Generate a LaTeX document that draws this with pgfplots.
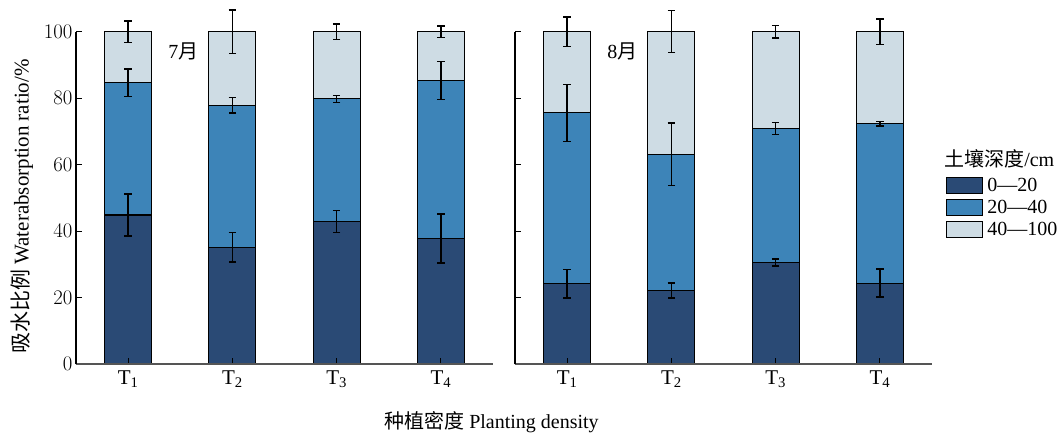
\documentclass[border=0pt]{standalone}
\usepackage{fontspec}
\setmainfont{Liberation Serif}
\newfontfamily\cjk{Noto Sans CJK SC}
\usepackage{pgfplots}
\pgfplotsset{compat=1.18}

\definecolor{cdark}{HTML}{2A4A75}
\definecolor{cmid}{HTML}{3D84B8}
\definecolor{clight}{HTML}{CEDCE4}
\definecolor{axgray}{HTML}{555555}

\newcommand{\tickfont}{\fontsize{20}{23}\selectfont}
\newcommand{\labfont}{\fontsize{20}{23}\selectfont}

\pgfplotsset{
  geom/.style={
    scale only axis, width=417pt, height=332.6pt,
    xmin=0.5, xmax=4.5, ymin=0, ymax=100,
    clip=false,
  },
  panel/.style={
    geom,
    axis x line=bottom, axis y line=left,
    axis line style={-},
    x axis line style={draw=axgray, line width=1.6pt},
    y axis line style={draw=black, line width=1.1pt},
    xtick={1,2,3,4},
    xticklabels={T\textsubscript{1},T\textsubscript{2},T\textsubscript{3},T\textsubscript{4}},
    ytick={0,20,40,60,80,100},
    tick align=inside, major tick length=6pt,
    tick style={black, line width=1.1pt},
    ticklabel style={font=\tickfont},
    xticklabel style={font=\fontsize{21}{24}\selectfont, yshift=-3pt},
    ybar stacked, bar width=0.45,
    axis on top,
  },
  errax/.style={geom, axis lines=none, xtick=\empty, ytick=\empty},
  legbox/.style={legend image code/.code={\draw[##1, line width=1.1pt] (0pt,-8pt) rectangle (36pt,8pt);}},
  barsty/.style={draw=black, line width=1.1pt, fill=#1, legbox},
  ebar/.style={draw=none, mark=none, forget plot,
    error bars/.cd, y dir=both, y explicit,
    error bar style={draw=black, line width=1.4pt},
    error mark options={rotate=90, draw=black, mark size=3.7pt, line width=1.4pt}},
}

% July (7月): x, 0-20, 20-40, 40-100
\pgfplotstableread{
x  a     b     c
1  44.9  39.8  15.3
2  35.2  42.7  22.1
3  42.9  36.9  20.2
4  37.8  47.5  14.7
}\julydata
% August (8月)
\pgfplotstableread{
x  a     b     c
1  24.2  51.4  24.4
2  22.2  41.0  36.8
3  30.6  40.3  29.1
4  24.4  47.9  27.7
}\augdata

\begin{document}
\begin{tikzpicture}
\path[use as bounding box] (0pt,0pt) rectangle (1062pt,438pt);

% ---------- left panel (July) ----------
\begin{axis}[panel, at={(76pt,73.7pt)}, anchor=south west]
  \addplot[barsty=cdark]  table[x=x,y=a] {\julydata};
  \addplot[barsty=cmid]   table[x=x,y=b] {\julydata};
  \addplot[barsty=clight] table[x=x,y=c] {\julydata};
  \node[font=\labfont] at (axis cs:1.53,94.2) {7{\cjk 月}};
\end{axis}
\begin{axis}[errax, at={(76pt,73.7pt)}, anchor=south west]
  \addplot[ebar] coordinates {
    (1,44.9) +- (0,6.3) (2,35.2) +- (0,4.4) (3,42.9) +- (0,3.3) (4,37.8) +- (0,7.4)};
  \addplot[ebar] coordinates {
    (1,84.7) +- (0,4.1) (2,77.9) +- (0,2.4) (3,79.8) +- (0,1.05) (4,85.3) +- (0,5.7)};
  \addplot[ebar] coordinates {
    (1,100) +- (0,3.2) (2,100) +- (0,6.5) (3,100) +- (0,2.3) (4,100) +- (0,1.75)};
\end{axis}

% ---------- right panel (August) ----------
\begin{axis}[panel, at={(515pt,73.7pt)}, anchor=south west, yticklabels={},
  legend style={at={(1.034,0.565)}, anchor=north west, draw=none, fill=none,
    font=\labfont, inner sep=0pt, row sep=5pt, column sep=3pt,
    nodes={inner sep=1pt}},
  legend cell align=left]
  \addplot[barsty=cdark]  table[x=x,y=a] {\augdata};
  \addplot[barsty=cmid]   table[x=x,y=b] {\augdata};
  \addplot[barsty=clight] table[x=x,y=c] {\augdata};
  \addlegendentry{0—20}
  \addlegendentry{20—40}
  \addlegendentry{40—100}
  \node[font=\labfont] at (axis cs:1.53,94.2) {8{\cjk 月}};
  \node[font=\labfont, anchor=west, inner sep=0pt] at (axis description cs:1.029,0.617) {{\cjk 土壤深度}/cm};
\end{axis}
\begin{axis}[errax, at={(515pt,73.7pt)}, anchor=south west]
  \addplot[ebar] coordinates {
    (1,24.2) +- (0,4.3) (2,22.2) +- (0,2.25) (3,30.6) +- (0,1.1) (4,24.4) +- (0,4.2)};
  \addplot[ebar] coordinates {
    (1,75.6) +- (0,8.6) (2,63.2) +- (0,9.4) (3,70.9) +- (0,1.75) (4,72.3) +- (0,0.7)};
  \addplot[ebar] coordinates {
    (1,100) +- (0,4.4) (2,100) +- (0,6.3) (3,100) +- (0,1.85) (4,100) +- (0,3.85)};
\end{axis}

% axis titles
\node[font=\fontsize{21}{24}\selectfont, rotate=90] at (22pt,231.5pt) {{\cjk 吸水比例} Waterabsorption ratio/\%};
\node[font=\labfont] at (491.5pt,16pt) {{\cjk 种植密度} Planting density};
\end{tikzpicture}
\end{document}
